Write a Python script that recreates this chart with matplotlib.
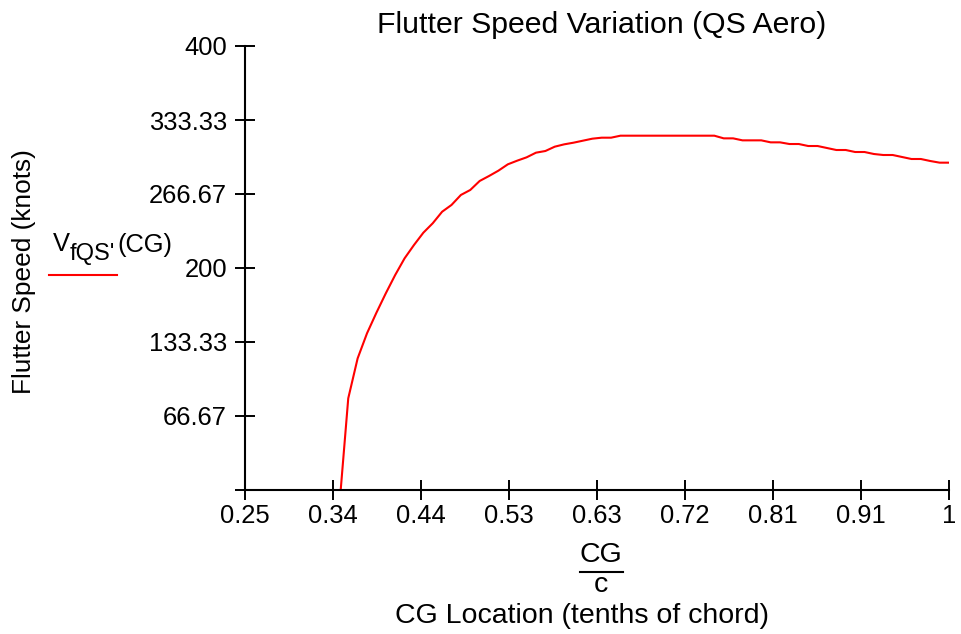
import numpy as np
import matplotlib.pyplot as plt
from matplotlib.lines import Line2D

plt.rcParams['font.family'] = ['Liberation Sans', 'DejaVu Sans']

# CG location (fraction of chord), sampled every 0.01
cg = np.round(np.arange(0.35, 1.0001, 0.01), 2)
# flutter speed in knots (first point is below zero -> clipped)
vf = [-20,
      82.6, 118.6, 141.2, 159.7, 177.2, 193.7, 208.7, 220.7, 231.8, 240.3,
      250.7, 256.8, 265.8, 270.3, 278.4, 282.9, 287.7, 293.4, 296.7, 299.7,
      303.9, 305.4, 309.3, 311.4, 312.9, 314.7, 316.5, 317.4, 317.4, 319.2,
      319.2, 319.2, 319.2, 319.2, 319.2, 319.2, 319.2, 319.2, 319.2, 319.2,
      316.8, 316.8, 315.0, 315.0, 315.0, 313.2, 313.2, 311.7, 311.7, 309.9,
      309.9, 308.1, 306.3, 306.3, 304.5, 304.5, 302.7, 301.8, 301.8, 300.0,
      298.2, 298.2, 296.4, 294.9, 294.9]

xticks = [0.25, 0.34375, 0.4375, 0.53125, 0.625, 0.71875, 0.8125, 0.90625, 1.0]
xlabels = ["0.25", "0.34", "0.44", "0.53", "0.63", "0.72", "0.81", "0.91", "1"]
yticks = [0, 400/6, 800/6, 200, 1600/6, 2000/6, 400]
ylabels = ["", "66.67", "133.33", "200", "266.67", "333.33", "400"]

W, H = 961, 634
fig = plt.figure(figsize=(W/100, H/100), dpi=100)
ax = fig.add_axes([245/W, 1-490/H, 704/W, 444/H])

ax.plot(cg, vf, color='red', lw=1.5)
ax.set_xlim(0.25, 1.0)
ax.set_ylim(0, 400)

ax.spines['top'].set_visible(False)
ax.spines['right'].set_visible(False)
ax.spines['left'].set_linewidth(1.5)
ax.spines['bottom'].set_linewidth(1.5)

ax.set_xticks(xticks)
ax.set_xticklabels(xlabels)
ax.set_yticks(yticks)
ax.set_yticklabels(ylabels)
ax.tick_params(direction='inout', length=14, width=1.4, labelsize=18.4)
ax.tick_params(axis='x', pad=3)
ax.tick_params(axis='y', pad=6)

def px(x, y):
    return x/W, 1-y/H

# titles and labels
fig.text(*px(602, 33), "Flutter Speed Variation (QS Aero)", fontsize=21.8,
         ha='center', va='baseline')
fig.text(*px(24, 272), "Flutter Speed (knots)", fontsize=18.9, rotation=90,
         ha='center', va='center')
fig.text(*px(601, 562), "CG", fontsize=20.5, ha='center', va='baseline')
fig.add_artist(Line2D([580/W, 623/W], [1-572/H, 1-572/H], color='black', lw=1.5))
fig.text(*px(601, 592), "c", fontsize=20.5, ha='center', va='baseline')
fig.text(*px(582, 623), "CG Location (tenths of chord)", fontsize=20.5,
         ha='center', va='baseline')

# legend (Mathcad style: trace name above a line sample)
fig.text(*px(53, 251), "V", fontsize=18.4, ha='left', va='baseline')
fig.text(*px(70, 260), "fQS'", fontsize=17, ha='left', va='baseline')
fig.text(*px(117, 252), "(CG)", fontsize=18.4, ha='left', va='baseline')
fig.add_artist(Line2D([49/W, 117/W], [1-275/H, 1-275/H], color='red', lw=1.5))

fig.savefig("out.png", dpi=100)
